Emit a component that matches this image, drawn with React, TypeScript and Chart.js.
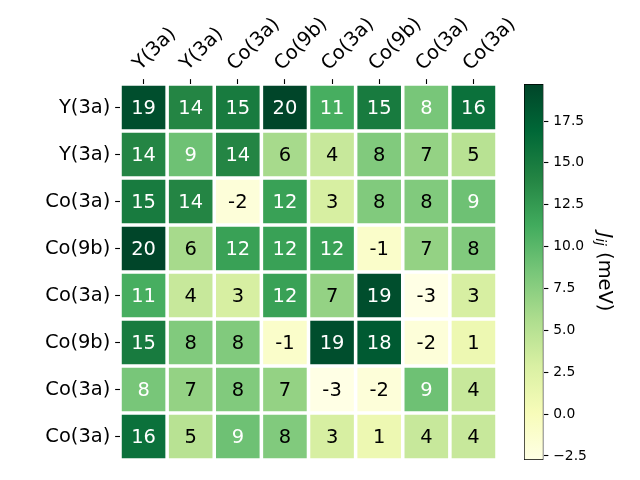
import React, { useEffect, useRef } from 'react';
import { Chart, registerables } from 'chart.js';

Chart.register(...registerables);

const colLabels = ['Y(3a)', 'Y(3a)', 'Co(3a)', 'Co(9b)', 'Co(3a)', 'Co(9b)', 'Co(3a)', 'Co(3a)'];
const rowLabels = ['Y(3a)', 'Y(3a)', 'Co(3a)', 'Co(9b)', 'Co(3a)', 'Co(9b)', 'Co(3a)', 'Co(3a)'];

const jRow0 = [19, 14, 15, 19.71, 11, 15, 8.49, 16];
const jRow1 = [14, 9, 14, 6, 4, 8, 7, 5];
const jRow2 = [15, 14, -2, 12, 3, 8, 8, 9];
const jRow3 = [19.71, 6, 12, 12, 12, -1, 7, 8];
const jRow4 = [11, 4, 3, 12, 7, 19, -2.74, 3];
const jRow5 = [15, 8, 8, -1, 19, 18, -2, 1];
const jRow6 = [8.49, 7, 8, 7, -2.74, -2, 9, 4];
const jRow7 = [16, 5, 9, 8, 3, 1, 4, 4];
const jValues = [jRow0, jRow1, jRow2, jRow3, jRow4, jRow5, jRow6, jRow7];

const vmin = -2.74;
const vmax = 19.71;
const cbTicks = [-2.5, 0, 2.5, 5, 7.5, 10, 12.5, 15, 17.5];
const cbTitle = '(meV)';

const ylgn = ['#ffffe5', '#f7fcb9', '#d9f0a3', '#addd8e', '#78c679', '#41ab5d', '#238443', '#006837', '#004529'];

const FONT = "'DejaVu Sans', 'Liberation Sans', sans-serif";
const PT = 100 / 72;

function hexToRgb(h: string) {
  const n = parseInt(h.slice(1), 16);
  return [(n >> 16) & 255, (n >> 8) & 255, n & 255];
}
function cmap(v: number) {
  let t = (v - vmin) / (vmax - vmin);
  t = Math.max(0, Math.min(1, t));
  const s = t * (ylgn.length - 1);
  const i = Math.min(Math.floor(s), ylgn.length - 2);
  const f = s - i;
  const a = hexToRgb(ylgn[i]);
  const b = hexToRgb(ylgn[i + 1]);
  const c = a.map((x, k) => Math.round(x + (b[k] - x) * f));
  return `rgb(${c[0]},${c[1]},${c[2]})`;
}

const cellTextPlugin = {
  id: 'cellText',
  afterDatasetsDraw(chart: any) {
    const ctx = chart.ctx;
    const mid = (vmin + vmax) / 2;
    ctx.save();
    ctx.font = `${14 * PT}px ${FONT}`;
    ctx.textAlign = 'center';
    ctx.textBaseline = 'middle';
    chart.data.datasets.forEach((ds: any, i: number) => {
      const meta = chart.getDatasetMeta(i);
      meta.data.forEach((el: any, j: number) => {
        const v = jValues[i][j];
        const { x, y, base } = el.getProps(['x', 'y', 'base'], true);
        ctx.fillStyle = v > mid ? '#ffffff' : '#000000';
        ctx.fillText(String(Math.round(v)), x, (y + base) / 2 + 1);
      });
    });
    ctx.restore();
  },
};

const topLabelsPlugin = {
  id: 'topLabels',
  afterDraw(chart: any) {
    const ctx = chart.ctx;
    const xs = chart.scales.x;
    const y0 = chart.chartArea.top - 3.5 * PT - 3.5 * PT;
    ctx.save();
    ctx.font = `${14 * PT}px ${FONT}`;
    ctx.fillStyle = '#000';
    ctx.textAlign = 'left';
    ctx.textBaseline = 'bottom';
    colLabels.forEach((lab, i) => {
      const x = xs.getPixelForValue(i);
      ctx.save();
      ctx.translate(x, y0);
      ctx.rotate(-Math.PI / 4);
      ctx.fillText(lab, 0, 0);
      ctx.restore();
    });
    ctx.restore();
  },
};

const cbTitlePlugin = {
  id: 'cbTitle',
  afterDraw(chart: any) {
    const ctx = chart.ctx;
    const area = chart.chartArea;
    const cy = (area.top + area.bottom) / 2;
    const cx = 604;
    const big = 14 * PT;
    const small = 14 * PT * 0.7;
    ctx.save();
    ctx.translate(cx, cy);
    ctx.rotate(Math.PI / 2);
    ctx.fillStyle = '#000';
    ctx.textBaseline = 'middle';
    ctx.textAlign = 'left';
    const fJ = `italic ${big}px ${FONT}`;
    const fij = `italic ${small}px ${FONT}`;
    const fr = `${big}px ${FONT}`;
    ctx.font = fJ;
    const wJ = ctx.measureText('J').width;
    ctx.font = fij;
    const wij = ctx.measureText('ij').width;
    ctx.font = fr;
    const wr = ctx.measureText(' ' + cbTitle).width;
    let x = -(wJ + wij + wr) / 2;
    ctx.font = fJ;
    ctx.fillText('J', x, 0);
    x += wJ;
    ctx.font = fij;
    ctx.fillText('ij', x, 4);
    x += wij;
    ctx.font = fr;
    ctx.fillText(' ' + cbTitle, x, 0);
    ctx.restore();
  },
};

export default function App() {
  const mainRef = useRef<HTMLCanvasElement>(null);
  const cbRef = useRef<HTMLCanvasElement>(null);

  useEffect(() => {
    const tickLen = 3.5 * PT;
    const main = new Chart(mainRef.current as HTMLCanvasElement, {
      type: 'bar',
      data: {
        labels: colLabels,
        datasets: rowLabels.map((r, i) => ({
          label: r,
          data: colLabels.map(() => [i, i + 1]),
          backgroundColor: jValues[i].map((v) => cmap(v)),
          borderColor: '#ffffff',
          borderWidth: 2.1,
          borderSkipped: false,
          grouped: false,
          categoryPercentage: 1,
          barPercentage: 1,
        })) as any,
      },
      options: {
        responsive: false,
        animation: false,
        devicePixelRatio: 1,
        layout: { padding: { left: 0, right: 143, top: 0, bottom: 20 } },
        plugins: { legend: { display: false }, tooltip: { enabled: false } },
        scales: {
          x: {
            position: 'top',
            grid: { offset: false, drawOnChartArea: false, tickLength: tickLen, tickColor: '#000', tickWidth: 0.8 * PT },
            border: { display: false },
            ticks: { display: false, autoSkip: false },
            afterFit: (s: any) => { s.height = 84; },
          },
          y: {
            min: 0,
            max: 8,
            reverse: true,
            afterBuildTicks: (s: any) => { s.ticks = rowLabels.map((_, i) => ({ value: i + 0.5 })); },
            grid: { drawOnChartArea: false, tickLength: tickLen, tickColor: '#000', tickWidth: 0.8 * PT },
            border: { display: false },
            ticks: {
              autoSkip: false,
              color: '#000',
              padding: 3.5 * PT,
              font: { family: FONT, size: 14 * PT },
              callback: (_v: any, idx: number) => rowLabels[idx],
            },
            afterFit: (s: any) => { s.width = 120; },
          },
        },
      } as any,
      plugins: [cellTextPlugin, topLabelsPlugin],
    });

    const cb = new Chart(cbRef.current as HTMLCanvasElement, {
      type: 'bar',
      data: {
        labels: [''],
        datasets: [{
          data: [[vmin, vmax]],
          backgroundColor: (c: any) => {
            const chart = c.chart;
            if (!chart.chartArea) return ylgn[4];
            const ys = chart.scales.y;
            const g = chart.ctx.createLinearGradient(0, ys.getPixelForValue(vmin), 0, ys.getPixelForValue(vmax));
            ylgn.forEach((col, i) => g.addColorStop(i / (ylgn.length - 1), col));
            return g;
          },
          borderColor: '#000',
          borderWidth: 1,
          borderSkipped: false,
          categoryPercentage: 1,
          barPercentage: 1,
        }] as any,
      },
      options: {
        responsive: false,
        animation: false,
        devicePixelRatio: 1,
        layout: { padding: { left: 524, right: 0, top: 84, bottom: 20 } },
        plugins: { legend: { display: false }, tooltip: { enabled: false } },
        scales: {
          x: { display: false },
          y: {
            position: 'right',
            min: vmin,
            max: vmax,
            afterBuildTicks: (s: any) => { s.ticks = cbTicks.map((v) => ({ value: v })); },
            grid: { drawOnChartArea: false, tickLength: tickLen, tickColor: '#000', tickWidth: 0.8 * PT },
            border: { display: false },
            ticks: {
              autoSkip: false,
              color: '#000',
              padding: 3.5 * PT,
              font: { family: FONT, size: 10 * PT },
              callback: (v: any) => (v < 0 ? '\u2212' : '') + Math.abs(Number(v)).toFixed(1),
            },
            afterFit: (s: any) => { s.width = 640 - 543.5; },
          },
        },
      } as any,
      plugins: [cbTitlePlugin],
    });

    return () => {
      main.destroy();
      cb.destroy();
    };
  }, []);

  return (
    <div style={{ position: 'fixed', left: 0, top: 0, width: 640, height: 480, background: '#fff' }}>
      <canvas ref={mainRef} width={640} height={480} style={{ position: 'absolute', left: 0, top: 0 }} />
      <canvas ref={cbRef} width={640} height={480} style={{ position: 'absolute', left: 0, top: 0 }} />
    </div>
  );
}
